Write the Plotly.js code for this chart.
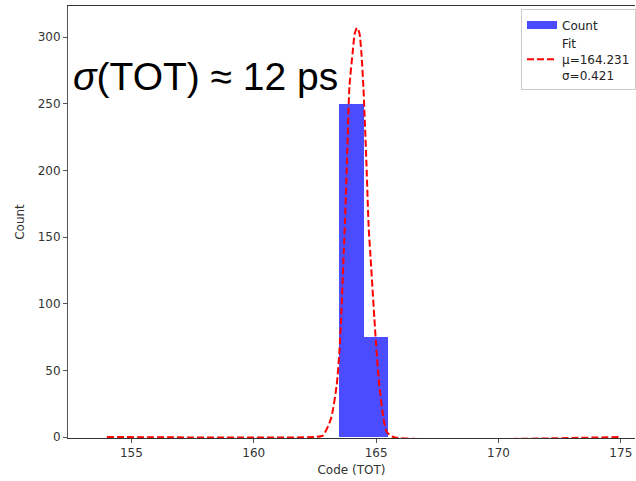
<!DOCTYPE html>
<html>
<head>
<meta charset="utf-8">
<script src="https://cdn.plot.ly/plotly-3.0.1.min.js"></script>
<style>html,body{margin:0;padding:0;overflow:hidden;background:#fff;}</style>
</head>
<body>
<div id="chart" style="width:636px;height:481px;"></div>
<script>
// Histogram bins (centers) and counts
const binCenters = [164, 165];
const binCounts = [250, 75];
const binWidth = 1;

// Fitted curve, points
const fitX = [154, 162.5, 162.82, 163.16, 163.39, 163.50, 163.57, 163.68, 163.73, 163.82, 163.91, 164.04, 164.13, 164.22, 164.32, 164.40, 164.48, 164.59, 164.70, 164.76, 164.93, 165.02, 165.13, 165.30, 165.43, 165.70, 175];
const fitY = [0, 0, 1, 14, 39, 64, 89, 139, 163, 213, 263, 288, 303, 307, 303, 288, 263, 213, 156, 139, 89, 64, 39, 14, 4, 0, 0];

const xTicks = [155, 160, 165, 170, 175];
const yTicks = [0, 50, 100, 150, 200, 250, 300];

const fitLabel = 'Fit<br>μ=164.231<br>σ=0.421';
const annText = '<i>σ</i>(TOT) ≈ 12 ps';

const barColor = 'rgba(0,0,255,0.7)';

const traces = [
  {
    type: 'bar', x: binCenters, y: binCounts, width: binWidth,
    marker: {color: barColor, line: {width: 0}},
    showlegend: false, name: 'Count'
  },
  {
    type: 'scatter', mode: 'lines', x: [null], y: [null], name: 'Count',
    line: {color: barColor, width: 8}, showlegend: true
  },
  {
    type: 'scatter', mode: 'lines', x: fitX, y: fitY, name: fitLabel,
    line: {color: 'red', width: 2, dash: '7px,3px', shape: 'spline', smoothing: 0.6}
  }
];

const fontFam = 'DejaVu Sans, sans-serif';
const layout = {
  width: 636, height: 481,
  margin: {l: 68, r: 0, t: 6, b: 43},
  paper_bgcolor: '#fff', plot_bgcolor: '#fff',
  font: {family: fontFam, size: 12, color: '#333'},
  bargap: 0,
  xaxis: {
    range: [152.41, 175.58], tickvals: xTicks, ticktext: xTicks.map(String),
    showgrid: false, zeroline: false, showline: true, linecolor: '#333', linewidth: 1,
    mirror: true, ticks: 'outside', ticklen: 4, tickcolor: '#555', layer: 'below traces',
    tickfont: {family: fontFam, size: 12, color: '#333'},
    title: {text: 'Code (TOT)', font: {family: fontFam, size: 12, color: '#333'}, standoff: 6}
  },
  yaxis: {
    range: [-0.75, 323.4], tickvals: yTicks, ticktext: yTicks.map(String),
    showgrid: false, zeroline: false, showline: true, linecolor: '#555', linewidth: 1,
    ticks: 'outside', ticklen: 4, tickcolor: '#555', layer: 'below traces',
    tickfont: {family: fontFam, size: 12, color: '#333'},
    title: {text: 'Count', font: {family: fontFam, size: 12, color: '#333'}, standoff: 10}
  },
  legend: {
    x: 0.799, y: 0.992, xanchor: 'left', yanchor: 'top',
    bgcolor: '#fff', bordercolor: '#ccc', borderwidth: 1,
    font: {family: fontFam, size: 12, color: '#222'},
    tracegroupgap: 0
  },
  annotations: [{
    xref: 'paper', yref: 'paper', x: 0, y: 0.831, xanchor: 'left', yanchor: 'middle',
    xshift: 3, yshift: 3,
    text: annText, showarrow: false,
    font: {family: 'Liberation Sans, Arial, sans-serif', size: 39, color: '#000'}
  }]
};

Plotly.newPlot('chart', traces, layout, {displayModeBar: false, staticPlot: true});
</script>
</body>
</html>
